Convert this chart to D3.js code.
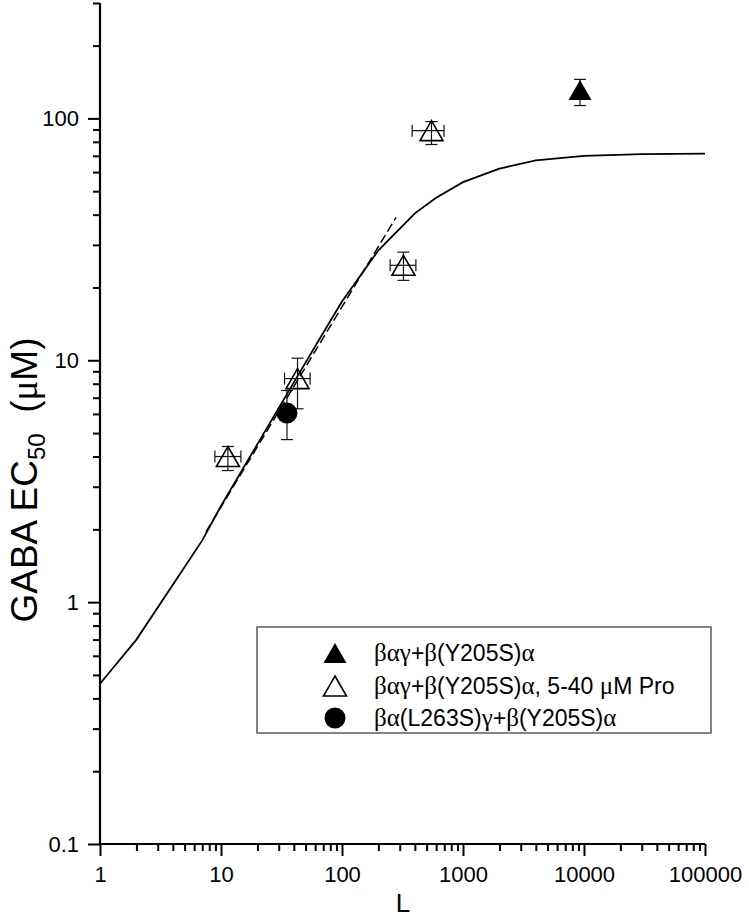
<!DOCTYPE html>
<html><head><meta charset="utf-8">
<script src="https://cdn.jsdelivr.net/npm/d3@7"></script>
<style>
html,body{margin:0;padding:0;background:#fff;}
svg{display:block;}
text{font-family:"Liberation Sans",Arial,sans-serif;fill:#000;}
</style></head>
<body>
<svg id="chart" width="749" height="919"></svg>
<script>
// ---------- data ----------
const curveL = [1, 2, 4, 7, 10, 20, 40, 70, 100, 200, 400, 600, 1000, 2000, 4000, 10000, 30000, 100000];
const curveV = [0.46, 0.70, 1.18, 1.8, 2.5, 4.5, 8.1, 13, 17.5, 28.5, 40.5, 47, 54.5, 62, 67, 70, 71.2, 71.5];
const dashL = [7.5, 280];
const dashV = [1.95, 39];

const openL = [11.4, 42.9, 322, 549];
const openV = [4.0, 8.4, 24.7, 89];
const openVLow = [3.5, 6.3, 21.4, 78];
const openVHigh = [4.4, 10.2, 28, 97];
const openLLow = [8.9, 33.5, 250, 380];
const openLHigh = [14.6, 54.5, 408, 697];

const fillL = [9270];
const fillV = [131];
const fillVLow = [113];
const fillVHigh = [145];

const circL = [35.1];
const circV = [6.05];
const circVLow = [4.7];
const circVHigh = [7.5];

const xTicks = [1, 10, 100, 1000, 10000, 100000];
const xTickLabels = ["1", "10", "100", "1000", "10000", "100000"];
const yTicks = [0.1, 1, 10, 100];
const yTickLabels = ["0.1", "1", "10", "100"];

const legendLabels = [
  [["β","g"],["α","g"],["γ","g"],["+",""],["β","g"],["(Y205S)",""],["α","g"]],
  [["β","g"],["α","g"],["γ","g"],["+",""],["β","g"],["(Y205S)",""],["α","g"],[", 5-40 ",""],["μ","g"],["M Pro",""]],
  [["β","g"],["α","g"],["(L263S)",""],["γ","g"],["+",""],["β","g"],["(Y205S)",""],["α","g"]]
];

// ---------- scales ----------
const svg = d3.select("#chart");
const x = d3.scaleLog().domain([1, 100000]).range([100, 705]);
const y = d3.scaleLog().domain([0.1, 300]).range([844, 3]);

// minor ticks
const xMinor = [], yMinor = [];
for (let d = 1; d < 100000; d *= 10) for (let k = 2; k <= 9; k++) xMinor.push(d * k);
for (let d = 0.1; d < 300; d *= 10) for (let k = 2; k <= 9; k++) { const v = +(d * k).toPrecision(3); if (v <= 300) yMinor.push(v); }

// ---------- axes ----------
const xAxisMinor = d3.axisBottom(x).tickValues(xMinor).tickSize(7).tickFormat("");
const xAxisMajor = d3.axisBottom(x).tickValues(xTicks).tickSize(12).tickPadding(10)
  .tickFormat((d, i) => xTickLabels[i]);
const yAxisMinor = d3.axisLeft(y).tickValues(yMinor).tickSize(7).tickFormat("");
const yAxisMajor = d3.axisLeft(y).tickValues(yTicks).tickSize(12).tickPadding(9)
  .tickFormat((d, i) => yTickLabels[i]);

function styleAxis(g) {
  g.select(".domain").remove();
  g.selectAll("line").attr("stroke", "#000").attr("stroke-width", 2);
  g.selectAll("text").style("font-size", "22px").attr("fill", "#000");
}
svg.append("g").attr("transform", "translate(0,844)").call(xAxisMinor).call(styleAxis);
svg.append("g").attr("transform", "translate(0,844)").call(xAxisMajor).call(styleAxis);
svg.append("g").attr("transform", "translate(100,0)").call(yAxisMinor).call(styleAxis);
svg.append("g").attr("transform", "translate(100,0)").call(yAxisMajor).call(styleAxis);
// axis lines
svg.append("line").attr("x1", x(1)).attr("x2", x(100000)).attr("y1", y(0.1)).attr("y2", y(0.1))
  .attr("stroke", "#000").attr("stroke-width", 2.2);
svg.append("line").attr("x1", x(1)).attr("x2", x(1)).attr("y1", y(0.1)).attr("y2", y(300))
  .attr("stroke", "#000").attr("stroke-width", 2.2);

// axis titles
svg.append("text").attr("x", 403).attr("y", 912).attr("text-anchor", "middle")
  .style("font-size", "26px").text("L");
const yt = svg.append("text").attr("transform", "translate(37,480) rotate(-90)")
  .attr("text-anchor", "middle").style("font-size", "37px");
yt.append("tspan").text("GABA EC");
yt.append("tspan").attr("dy", 8).style("font-size", "24px").text("50");
yt.append("tspan").attr("dy", -8).text("\u00a0\u00a0(");
yt.append("tspan").style("font-family", "'Liberation Serif','Times New Roman',serif").text("μ");
yt.append("tspan").text("M)");

// ---------- lines ----------
const line = d3.line().x(d => x(d[0])).y(d => y(d[1]));
svg.append("path").datum(curveL.map((l, i) => [l, curveV[i]]))
  .attr("d", line).attr("fill", "none").attr("stroke", "#000").attr("stroke-width", 1.8);
svg.append("path").datum(dashL.map((l, i) => [l, dashV[i]]))
  .attr("d", line).attr("fill", "none").attr("stroke", "#000").attr("stroke-width", 1.5)
  .attr("stroke-dasharray", "9,4");

// ---------- markers ----------
const triType = {
  draw(ctx, size) {
    const w = Math.sqrt(size), h = w * 0.87;
    ctx.moveTo(0, -h / 2); ctx.lineTo(w / 2, h / 2); ctx.lineTo(-w / 2, h / 2); ctx.closePath();
  }
};
const tri = d3.symbol().type(triType).size(23 * 23);
const capW = 6;
const eb = svg.append("g").attr("stroke", "#111").attr("stroke-width", 1.2).attr("fill", "none");

function vErr(L, lo, hi) {
  eb.append("line").attr("x1", x(L)).attr("x2", x(L)).attr("y1", y(lo)).attr("y2", y(hi));
  eb.append("line").attr("x1", x(L) - capW).attr("x2", x(L) + capW).attr("y1", y(lo)).attr("y2", y(lo));
  eb.append("line").attr("x1", x(L) - capW).attr("x2", x(L) + capW).attr("y1", y(hi)).attr("y2", y(hi));
}
function hErr(V, lo, hi) {
  eb.append("line").attr("x1", x(lo)).attr("x2", x(hi)).attr("y1", y(V)).attr("y2", y(V));
  eb.append("line").attr("x1", x(lo)).attr("x2", x(lo)).attr("y1", y(V) - capW).attr("y2", y(V) + capW);
  eb.append("line").attr("x1", x(hi)).attr("x2", x(hi)).attr("y1", y(V) - capW).attr("y2", y(V) + capW);
}
openL.forEach((L, i) => { vErr(L, openVLow[i], openVHigh[i]); hErr(openV[i], openLLow[i], openLHigh[i]); });
fillL.forEach((L, i) => vErr(L, fillVLow[i], fillVHigh[i]));
circL.forEach((L, i) => vErr(L, circVLow[i], circVHigh[i]));

svg.append("g").selectAll("path").data(openL).join("path")
  .attr("transform", (d, i) => `translate(${x(d)},${y(openV[i])})`)
  .attr("d", tri).attr("fill", "none").attr("stroke", "#000").attr("stroke-width", 1.6);
svg.append("g").selectAll("path").data(fillL).join("path")
  .attr("transform", (d, i) => `translate(${x(d)},${y(fillV[i])})`)
  .attr("d", tri).attr("fill", "#000");
svg.append("g").selectAll("circle").data(circL).join("circle")
  .attr("cx", d => x(d)).attr("cy", (d, i) => y(circV[i])).attr("r", 10.5).attr("fill", "#000");

// ---------- legend ----------
const lg = svg.append("g");
lg.append("rect").attr("x", 257).attr("y", 627).attr("width", 454).attr("height", 106)
  .attr("fill", "#fff").attr("stroke", "#444").attr("stroke-width", 1.3);
const rowY = [653, 686, 718];
lg.append("path").attr("transform", `translate(335,${rowY[0]})`).attr("d", tri).attr("fill", "#000");
lg.append("path").attr("transform", `translate(335,${rowY[1]})`).attr("d", tri)
  .attr("fill", "none").attr("stroke", "#000").attr("stroke-width", 1.6);
lg.append("circle").attr("cx", 335).attr("cy", rowY[2]).attr("r", 10.5).attr("fill", "#000");
legendLabels.forEach((parts, i) => {
  const t = lg.append("text").attr("x", 374).attr("y", rowY[i] + 8).style("font-size", "23px");
  parts.forEach(p => {
    const s = t.append("tspan").text(p[0]);
    if (p[1] === "g") s.style("font-family", "'Liberation Serif','Times New Roman',serif").style("font-size", "25px");
  });
});
</script>
</body></html>
